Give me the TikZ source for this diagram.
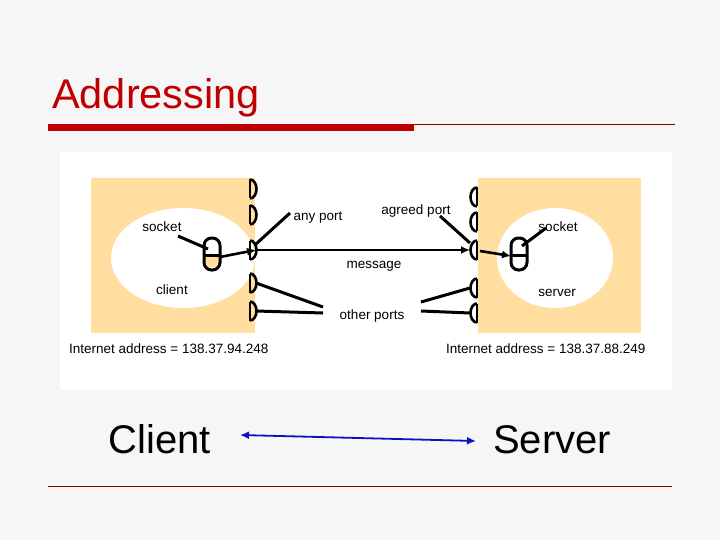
\documentclass[tikz,border=0pt]{standalone}
\usepackage{fontspec}
\setmainfont{Liberation Sans}
\usetikzlibrary{arrows.meta}
\definecolor{bx}{HTML}{FFDEA0}
\definecolor{tred}{HTML}{C00000}
\definecolor{bl}{HTML}{1010C0}
\begin{document}
\begin{tikzpicture}[x=1pt,y=-1pt,
 lbl/.style={font=\fontsize{13.5}{16}\selectfont, inner sep=0pt},
 pl/.style={line width=3pt},
 portL/.style={line width=2.6pt},
 ar/.style={line width=2.6pt,-{Latex[length=9pt,width=8pt]}}]
\useasboundingbox (0,0) rectangle (720,540);
\fill[gray!7] (0,0) rectangle (720,540);
\node[anchor=base west,text=tred,font=\fontsize{41.5}{44}\selectfont,inner sep=0pt] (title) at (52,109) {Addressing};
\fill[tred] (48,124) rectangle (414,131);
\draw[tred!70!black,line width=0.6pt] (414,124) -- (675,124);
\fill[white] (60,152) rectangle (672,390);
\fill[bx] (91,178) rectangle (255,333);
\fill[bx] (478,178) rectangle (641,333);
\fill[white] (183,258) ellipse [x radius=72,y radius=50];
\fill[white] (555,258) ellipse [x radius=58,y radius=50];
% ports
\foreach \y/\n in {189/a,215/b,250/c,283/d,311/e}{
 \draw[portL] (250,\y-9.5) -- (250,\y+9.5);
 \draw[portL] (250,\y-9.5) arc[start angle=-90,end angle=90,x radius=6.5,y radius=9.5];
 \coordinate (pL\n) at (256,\y);}
\foreach \y/\n in {197/a,222/b,250/c,288/d,313/e}{
 \draw[portL] (477,\y-9.5) -- (477,\y+9.5);
 \draw[portL] (477,\y-9.5) arc[start angle=-90,end angle=-270,x radius=6.5,y radius=9.5];
 \coordinate (pR\n) at (470,\y);}
% sockets
\fill[bx] (205,255) rectangle (219,267);
\draw[pl,rounded corners=7.5pt] (204,238) rectangle (220,270);
\draw[pl] (204,255) -- (220,255);
\draw[pl,rounded corners=7.5pt] (511,238) rectangle (527,270);
\draw[pl] (511,255) -- (527,255);
\coordinate (sL) at (220,257);
\coordinate (sR) at (511,256);
\draw[ar] (sL) -- (pLc);
\draw[ar] (pLc) -- (pRc);
\draw[ar] (480,251) -- (sR);
% labels
\node[lbl] (sock1) at (162,227) {socket};
\node[lbl] (client) at (172,290) {client};
\node[lbl] (any) at (318,218) {any port};
\node[lbl] (agreed) at (416,211) {agreed port};
\node[lbl] (sock2) at (558,227) {socket};
\node[lbl] (server) at (557,293) {server};
\node[lbl] (msg) at (374,266) {message};
\node[lbl] (other) at (372,316) {other ports};
\node[lbl,anchor=west] (ia1) at (69,349) {Internet address = 138.37.94.248};
\node[lbl,anchor=west] (ia2) at (446,349) {Internet address = 138.37.88.249};
\draw[pl] (178,236) -- (208,249);
\draw[pl] (290,213) -- (256,244);
\draw[pl] (440,216) -- (470,243);
\draw[pl] (546,228) -- (522,246);
\draw[pl] (pLd) -- (323,307);
\draw[pl] (pLe) -- (323,313);
\draw[pl] (pRd) -- (421,302);
\draw[pl] (pRe) -- (421,311);
% bottom
\node[font=\fontsize{40}{44}\selectfont,inner sep=0pt] (cl) at (160,439) {Client};
\node[font=\fontsize{40}{44}\selectfont,inner sep=0pt] (sv) at (552,440) {Server};
\draw[bl,line width=1.8pt,{Latex[length=9pt,width=8pt]}-{Latex[length=9pt,width=8pt]}] (240,435) -- (476,441);
\draw[tred!70!black,line width=0.6pt] (48,486) -- (672,486);
\end{tikzpicture}
\end{document}
